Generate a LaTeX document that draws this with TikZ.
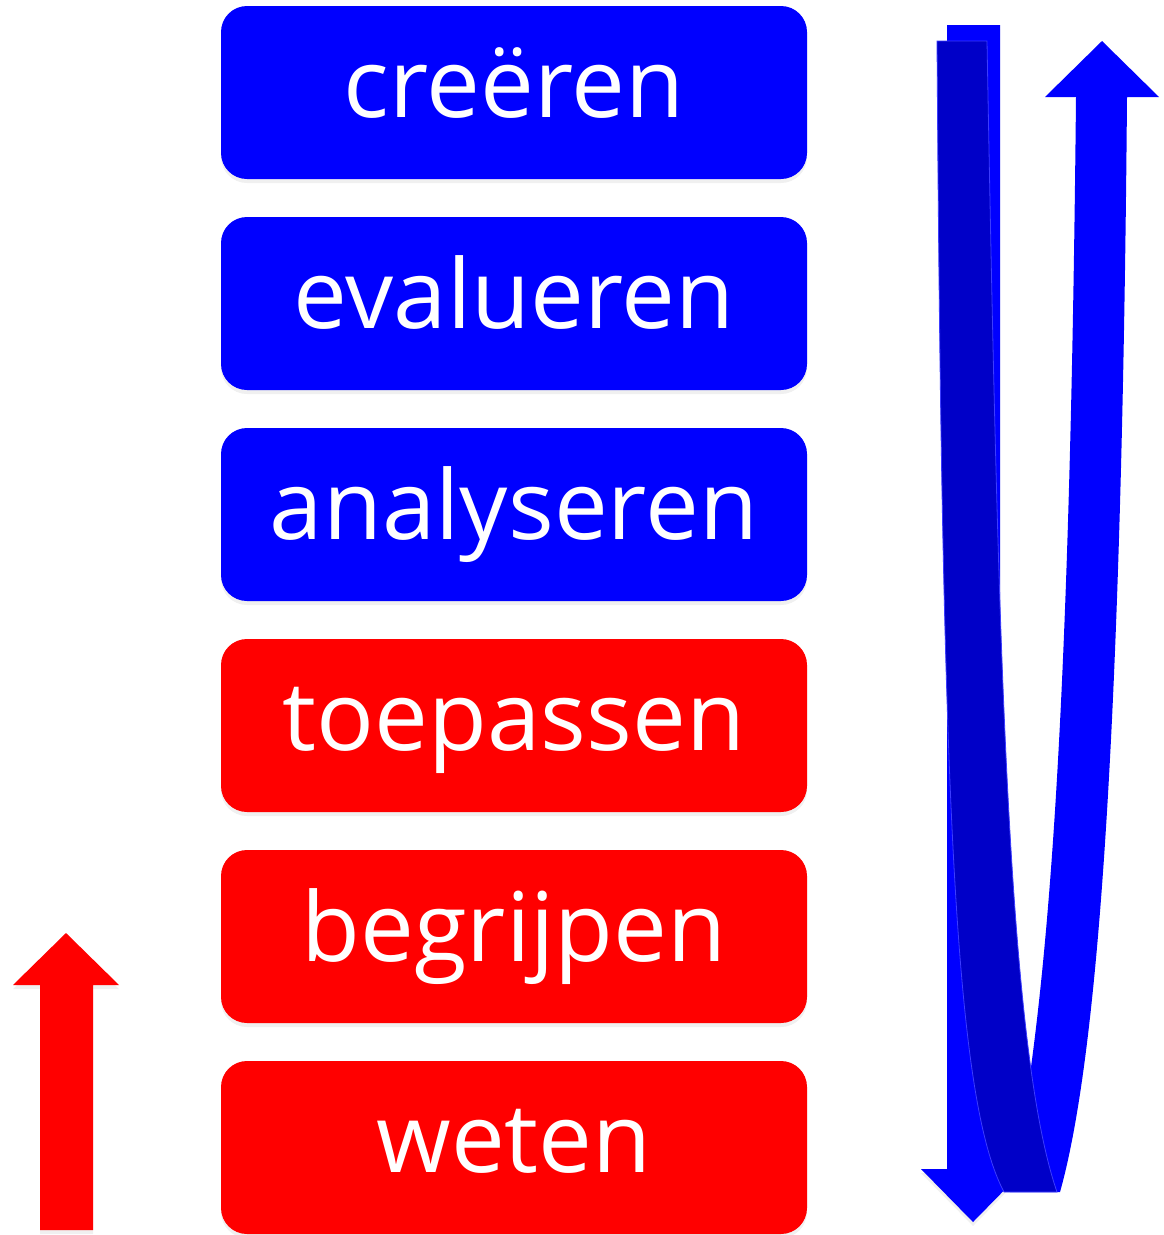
\documentclass[tikz,border=0pt]{standalone}
\usepackage{fontspec}
\setmainfont{Open Sans}
\usetikzlibrary{positioning,shadows}
\definecolor{lichtblauw}{RGB}{0,0,255}
\definecolor{donkerblauw}{RGB}{0,0,200}
\definecolor{randblauw}{RGB}{60,60,255}
\definecolor{felrood}{RGB}{255,0,0}

\begin{document}
\begin{tikzpicture}[x=1pt,y=-1pt,
    schaduw/.style={drop shadow={shadow xshift=0pt,shadow yshift=-4pt,opacity=0.12}},
    niveau/.style={rectangle, rounded corners=26pt, minimum width=586pt,
        minimum height=173pt, inner sep=0pt, outer sep=0pt, text=white,
        font=\fontsize{96}{100}\selectfont, text height=70pt, text depth=21pt, schaduw},
    bluebox/.style={niveau, fill=lichtblauw},
    redbox/.style={niveau, fill=felrood}]
    \useasboundingbox (0,0) rectangle (1164,1235);

    \node[bluebox] (creeren) at (514,92.5) {creëren};
    \node[bluebox, below=38pt of creeren] (evalueren) {evalueren};
    \node[bluebox, below=38pt of evalueren] (analyseren) {analyseren};
    \node[redbox, below=38pt of analyseren] (toepassen) {toepassen};
    \node[redbox, below=38pt of toepassen] (begrijpen) {begrijpen};
    \node[redbox, below=38pt of begrijpen] (weten) {weten};

    % rode pijl omhoog
    \fill[felrood, schaduw] (40,1230) -- (40,985) -- (13,985) -- (66,933)
        -- (119,985) -- (93,985) -- (93,1230) -- cycle;

    % blauwe pijl: omlaag
    \fill[lichtblauw, schaduw] (947,25) -- (1000,25) -- (1000,1169) -- (1025,1169)
        -- (973,1222) -- (921,1169) -- (947,1169) -- cycle;
    % blauwe pijl: weer omhoog
    \fill[lichtblauw] (1076,97) .. controls (1070,700) and (1050,1000) .. (1010,1192)
        -- (1060,1192) .. controls (1100,1050) and (1122,700) .. (1127,97)
        -- (1159,97) -- (1102,41) -- (1045,97) -- cycle;
    % achterkant van het lint
    \filldraw[fill=donkerblauw, draw=randblauw, line width=0.8pt] (937,41) -- (987,41)
        .. controls (998,650) and (1008,1050) .. (1057,1192) -- (1004,1192)
        .. controls (955,1100) and (942,800) .. (937,41) -- cycle;
\end{tikzpicture}
\end{document}
